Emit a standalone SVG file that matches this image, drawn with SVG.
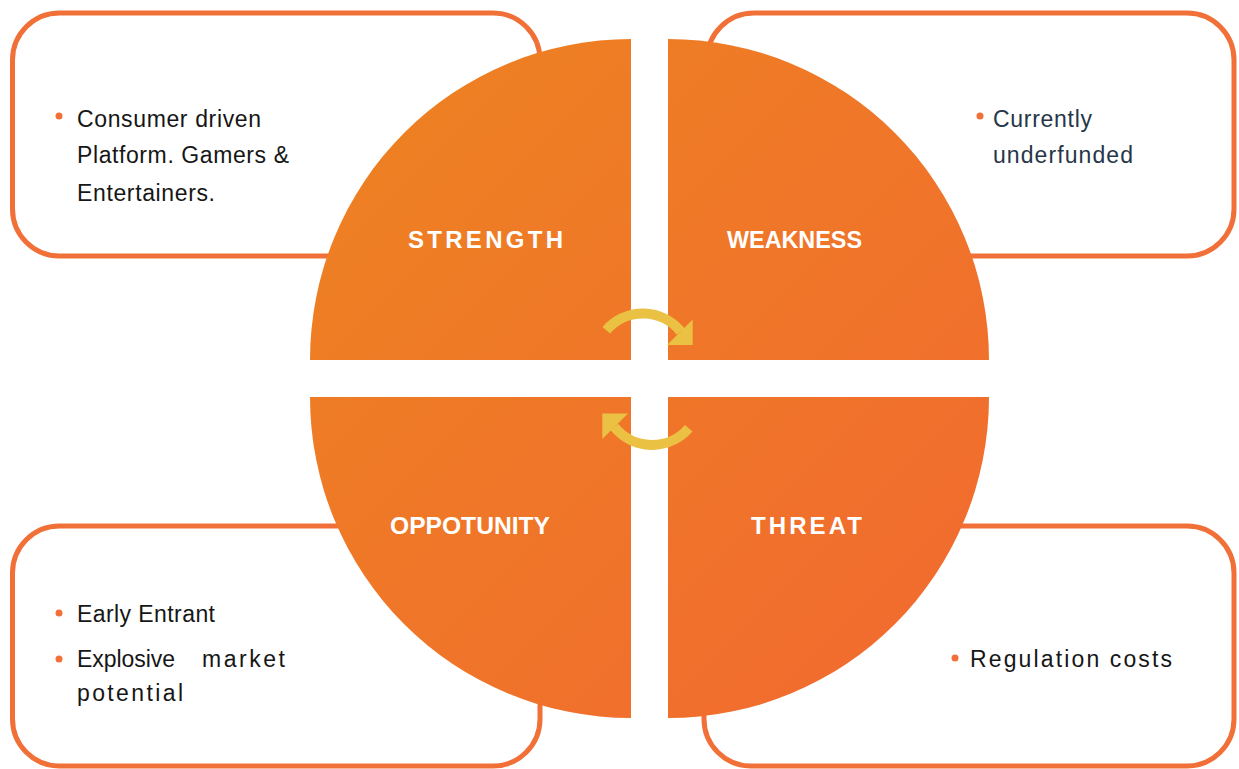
<svg xmlns="http://www.w3.org/2000/svg" width="1239" height="769" viewBox="0 0 1239 769">
  <defs>
    <linearGradient id="quadFill" gradientUnits="userSpaceOnUse" x1="310" y1="39" x2="989" y2="718">
      <stop offset="0" stop-color="#ED8321"/>
      <stop offset="1" stop-color="#F26930"/>
    </linearGradient>
    <style>
      .box { fill: #FFFFFF; stroke: #F07038; stroke-width: 5; }
      .quad { fill: url(#quadFill); }
      .label { font-family: "Liberation Sans", Arial, sans-serif; font-weight: bold; font-size: 24px; fill: #FFFFFF; }
      .body { font-family: "Liberation Sans", Arial, sans-serif; font-size: 23px; fill: #161616; }
      .navy { fill: #263648; }
      .dot { fill: #F07038; }
      .cycle { fill: none; stroke: #EBC143; stroke-width: 10; }
      .head { fill: #EBC143; }
    </style>
  </defs>
  <rect width="1239" height="769" fill="#FFFFFF"/>

  <g id="box-strength"><rect class="box" x="12.5" y="13" width="527.5" height="243" rx="47"/></g>
  <g id="box-weakness"><rect class="box" x="707" y="13" width="527" height="243" rx="47"/></g>
  <g id="box-opportunity"><rect class="box" x="12.5" y="526" width="527.5" height="240" rx="47"/></g>
  <g id="box-threat"><rect class="box" x="704" y="526" width="530" height="240" rx="47"/></g>

  <g id="strength">
    <path class="quad" d="M631,360 L310,360 A321,321 0 0 1 631,39 Z"/>
    <text class="label" x="408" y="248" textLength="155" lengthAdjust="spacing">STRENGTH</text>
  </g>
  <g id="weakness">
    <path class="quad" d="M668,360 L668,39 A321,321 0 0 1 989,360 Z"/>
    <text class="label" x="727" y="248" textLength="135" lengthAdjust="spacingAndGlyphs">WEAKNESS</text>
  </g>
  <g id="opportunity">
    <path class="quad" d="M631,397 L631,718 A321,321 0 0 1 310,397 Z"/>
    <text class="label" x="390" y="534" textLength="160" lengthAdjust="spacingAndGlyphs">OPPOTUNITY</text>
  </g>
  <g id="threat">
    <path class="quad" d="M668,397 L989,397 A321,321 0 0 1 668,718 Z"/>
    <text class="label" x="751" y="534" textLength="111" lengthAdjust="spacing">THREAT</text>
  </g>

  <g id="strength-notes">
    <circle class="dot" cx="59" cy="116" r="3.5"/>
    <text class="body" x="77" y="127" textLength="184" lengthAdjust="spacing">Consumer driven</text>
    <text class="body" x="77" y="163" textLength="212" lengthAdjust="spacing">Platform. Gamers &amp;</text>
    <text class="body" x="77" y="201" textLength="138" lengthAdjust="spacing">Entertainers.</text>
  </g>
  <g id="weakness-notes">
    <circle class="dot" cx="980" cy="116" r="3.5"/>
    <text class="body navy" x="993" y="127" textLength="99" lengthAdjust="spacing">Currently</text>
    <text class="body navy" x="993" y="163" textLength="140" lengthAdjust="spacing">underfunded</text>
  </g>
  <g id="opportunity-notes">
    <circle class="dot" cx="59" cy="613" r="3.5"/>
    <text class="body" x="77" y="622" textLength="138" lengthAdjust="spacing">Early Entrant</text>
    <circle class="dot" cx="59" cy="659" r="3.5"/>
    <text class="body" x="77" y="667"><tspan textLength="98" lengthAdjust="spacing">Explosive</tspan><tspan x="202" textLength="83" lengthAdjust="spacing">market</tspan></text>
    <text class="body" x="77" y="701" textLength="106" lengthAdjust="spacing">potential</text>
  </g>
  <g id="threat-notes">
    <circle class="dot" cx="955" cy="658" r="3.5"/>
    <text class="body" x="970" y="667" textLength="202" lengthAdjust="spacing">Regulation costs</text>
  </g>

  <g id="connectors">
    <g id="cycle-top">
      <path class="cycle" d="M606.3,330.2 A48.5,48.5 0 0 1 680.7,331.5"/>
      <polygon class="head" points="692.7,319.5 692.7,345 667,345"/>
    </g>
    <g id="cycle-bottom" transform="rotate(180 647.5 379.2)">
      <path class="cycle" d="M606.3,330.2 A48.5,48.5 0 0 1 680.7,331.5"/>
      <polygon class="head" points="692.7,319.5 692.7,345 667,345"/>
    </g>
  </g>
</svg>
